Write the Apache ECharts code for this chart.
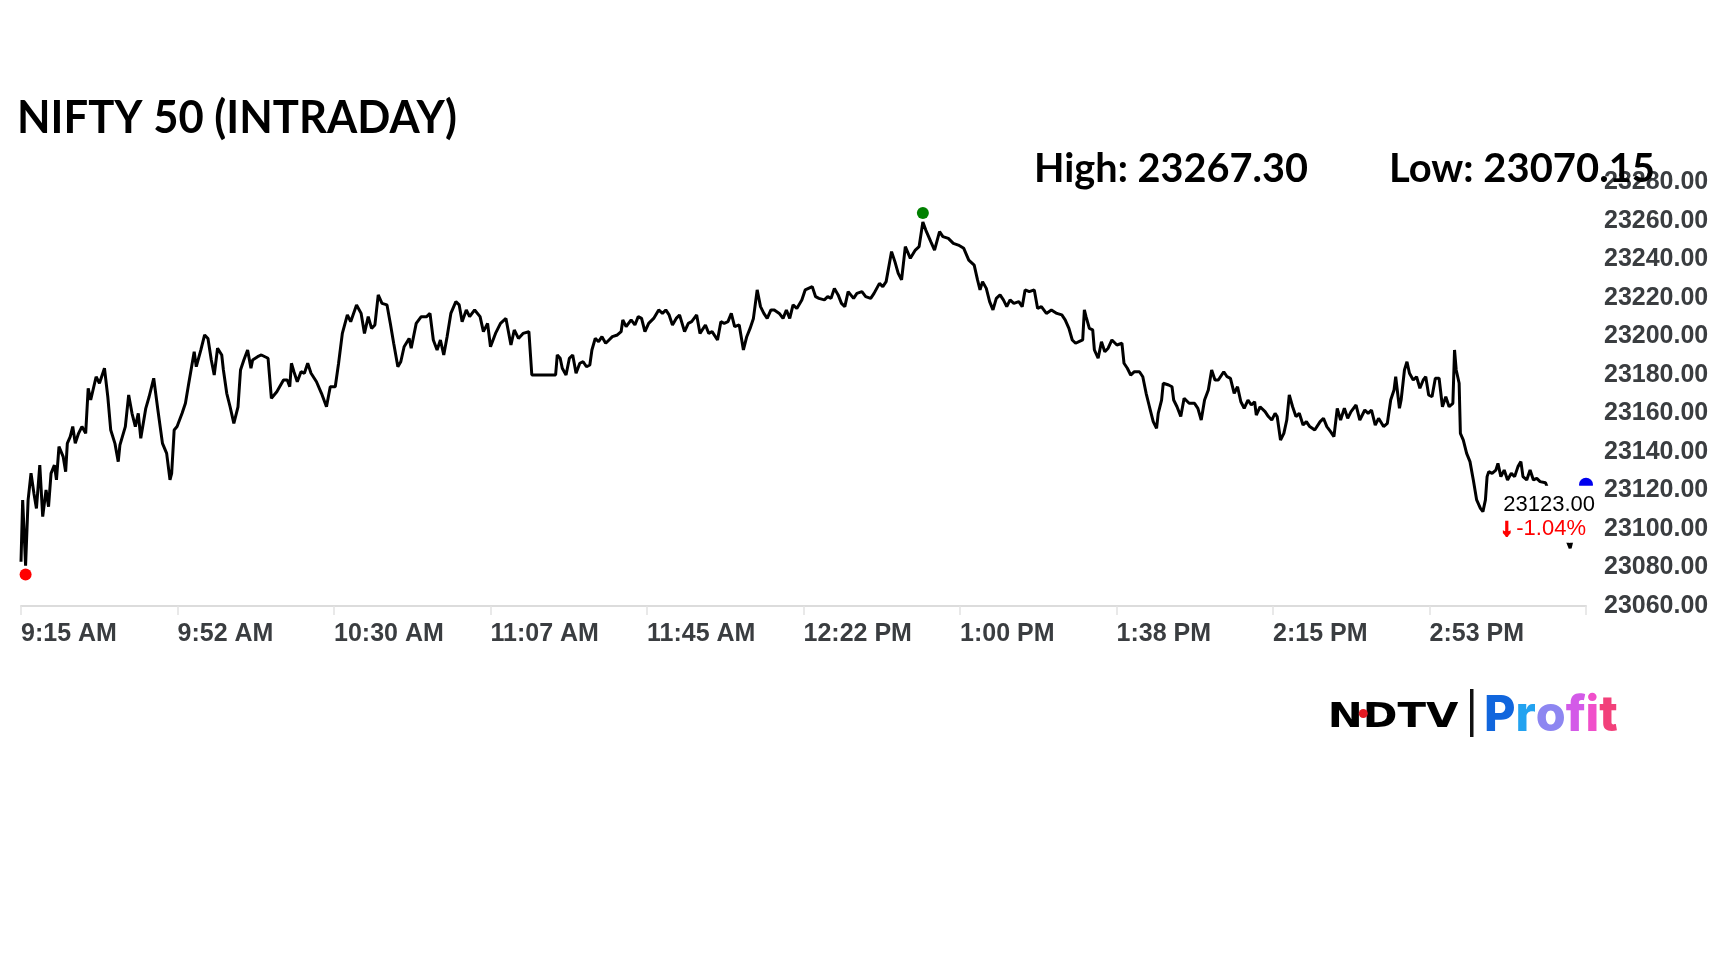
<!DOCTYPE html>
<html><head><meta charset="utf-8">
<script src="https://cdn.jsdelivr.net/npm/echarts@6/dist/echarts.min.js"></script>
<style>html,body{margin:0;padding:0;background:#fff}#c{width:1728px;height:972px}</style>
</head><body><div id="c"></div>
<script>
// ---- data (minutes after 9:15 AM open, NIFTY 50 level) ----
const minutesFromOpen = [
0,0.4,1.1,1.7,2.4,3.1,3.7,4.5,5.2,6.0,6.6,7.2,8.0,8.5,9.1,10.1,10.7,11.1,11.8,12.4,13.0,13.8,14.6,15.5,16.1,16.7,18.0,18.8,20.0,20.8,
21.5,22.5,23.3,23.7,25.0,25.8,26.6,27.4,28.1,28.7,29.9,30.7,31.8,32.8,33.9,34.9,35.7,36.1,36.7,37.4,38.6,39.4,40.2,41.5,42.0,43.1,44.0,44.8,45.6,46.3,
47.1,48.1,48.5,49.3,50.1,51.0,52.0,52.6,53.4,54.3,55.1,55.5,56.7,57.6,59.2,60.0,61.3,62.9,63.8,64.4,64.8,65.4,66.2,67.1,67.9,68.7,69.5,70.8,72.0,73.2,
74.1,75.3,76.1,77.0,78.2,79.0,80.4,81.5,82.3,83.2,84.0,84.8,85.6,86.5,87.7,88.5,89.3,90.3,91.0,91.8,93.0,93.5,94.7,95.9,97.2,98.0,98.8,99.7,100.5,101.3,
102.1,103.0,104.2,105.0,105.7,106.7,107.5,108.7,110.0,110.8,111.8,112.5,113.7,114.9,116.2,117.4,118.2,119.2,120.3,121.7,122.4,128.1,128.5,129.2,129.7,130.6,131.4,132.2,133.0,133.9,
134.7,135.5,136.3,136.8,137.6,138.4,139.2,140.1,140.9,141.7,142.9,143.8,144.2,145.0,146.2,147.1,147.9,148.7,149.5,150.4,151.6,152.8,153.7,154.5,155.3,156.1,157.0,157.8,159.0,159.9,
160.7,161.9,162.7,164.0,164.8,165.6,166.9,167.7,168.5,169.4,170.2,171.0,172.1,173.1,173.9,174.7,175.5,176.4,177.2,178.0,178.8,179.7,180.5,181.7,182.6,183.4,184.2,185.0,185.9,187.1,
187.9,188.7,189.6,190.4,191.2,192.5,193.3,194.1,194.9,195.8,196.6,197.4,198.2,199.5,200.3,201.5,202.4,203.6,204.4,205.7,206.5,207.3,208.6,209.4,210.2,211.0,211.9,213.1,214.3,215.2,
216.1,216.8,218.0,218.9,220.1,220.9,222.2,223.4,224.6,225.9,227.1,228.4,229.2,229.8,230.4,231.3,232.1,232.9,233.7,234.6,235.4,236.2,237.0,237.9,239.1,239.9,240.6,241.6,242.8,243.6,
244.5,245.7,246.9,248.2,249.4,250.2,251.1,251.9,252.7,253.5,254.4,254.8,255.2,256.0,256.8,257.2,258.1,258.9,259.7,260.5,261.4,262.6,263.8,264.3,265.1,265.9,266.8,268.0,268.8,269.6,
270.4,271.3,272.1,272.5,273.3,273.7,275.0,275.8,276.2,277.0,277.9,278.7,279.9,281.2,282.0,282.8,283.6,284.5,285.3,286.1,286.9,288.2,289.0,289.8,290.7,291.5,292.3,293.1,294.0,294.8,
295.6,296.0,296.9,298.1,298.9,299.7,300.5,301.0,301.8,302.6,303.3,303.9,304.7,305.5,306.3,307.2,308.0,308.8,310.0,311.3,312.1,312.9,313.8,314.6,315.4,316.2,317.1,317.9,318.7,319.9,
320.8,322.0,322.8,323.6,324.5,325.3,326.5,327.4,328.2,329.0,329.4,330.3,330.7,331.5,332.1,332.7,333.6,334.4,335.2,336.0,336.6,337.3,338.1,338.9,339.8,340.6,341.4,342.2,343.1,343.5,
343.9,344.6,344.9,345.6,346.4,347.2,348.0,348.8,349.7,350.3,350.9,351.3,351.7,352.5,353.4,353.9,354.6,355.4,356.2,357.1,357.9,358.7,359.4,359.9,360.8,361.6,362.4,363.2,364.0,365.3,
367.0,369.0,371.2,373.0,375.0
];
const niftyPrices = [
23083,23115,23081,23115,23129,23118.5,23110.7,23133.2,23106.4,23120.3,23111.6,23128.9,23133.2,23125.5,23142.8,23137.6,23129.8,23144.5,23148,23153.2,23144.5,23149.7,23153.2,23149.7,23173.1,23167,23179.1,23175.7,23183.5,23168.7,
23151.4,23144.5,23135,23143.6,23153.2,23169.6,23160.1,23153.2,23160.1,23147.1,23162.7,23168.7,23178.3,23161.8,23144.5,23139.3,23125.5,23128.9,23151.4,23153.2,23160.1,23165.3,23175.7,23192.1,23184.3,23193,23200.8,23199,23187.8,23180,
23193.9,23190.4,23182.6,23170.5,23163.5,23154.9,23163.5,23182.6,23187.8,23193,23183.5,23187.8,23189.5,23190.4,23188.7,23167.9,23171.3,23177.4,23177.4,23173.9,23186.1,23181.7,23176.5,23181.7,23180.9,23186.1,23180.9,23176.5,23170.5,23163.5,
23173.9,23173.9,23186.1,23201.6,23211.2,23207.7,23216.4,23212,23201.6,23210.3,23204.2,23206,23221.6,23217.2,23216.4,23206.8,23196.5,23184.3,23186.9,23194.7,23199,23193.9,23206.8,23210.3,23210.3,23212,23198.2,23193,23198.2,23190.4,
23199.9,23212,23218.1,23216.4,23207.7,23213.8,23210.3,23213.8,23210.3,23202.5,23206.8,23194.7,23201.6,23206.8,23209.4,23195.6,23203.4,23199,23201.6,23202.5,23180,23180,23190.4,23188.7,23183.5,23180,23188.7,23190.4,23180.9,23186.1,
23186.9,23184.3,23185.2,23193,23199,23197.3,23199.9,23196.5,23198.2,23199.9,23200.8,23202.5,23208.6,23205.1,23208.6,23206,23210.3,23209.4,23202.5,23206.8,23209.4,23213.8,23212,23213.8,23211.2,23206,23209.4,23211.2,23202.5,23206.8,
23207.7,23211.2,23201.6,23206,23201.6,23202.5,23198.2,23207.7,23206.8,23207.7,23212,23205.1,23206,23193,23199.9,23204.2,23209.4,23224.2,23215.5,23212,23209.4,23213.8,23213.8,23212,23209.4,23213.8,23209.4,23216.4,23214.6,23219,
23224.2,23225,23225.9,23220.7,23219.8,23219,23220.7,23219.8,23225,23221.6,23217.2,23215.5,23223.3,23219.8,23222.4,23223.3,23220.7,23219.8,23222.4,23227.6,23225.9,23228.5,23244.1,23238.9,23232.8,23229.4,23246.7,23240.6,23244.9,23246.7,
23259.5,23255.3,23249.3,23244.9,23254.5,23251.9,23251,23248.4,23247.5,23245.8,23239.7,23237.1,23229.4,23224.2,23228.5,23225,23218.1,23213.8,23219.8,23221.6,23219,23215.5,23219,23217.2,23218.1,23215.5,23224.2,23223.3,23224.2,23214.6,
23215.5,23212,23213.8,23212,23211.2,23208.6,23204.2,23198.2,23196.5,23197.3,23198.2,23213.8,23210.3,23204.2,23203.4,23193,23188.7,23197.3,23192.1,23193.9,23198.2,23195.6,23196.5,23186.1,23183.5,23180,23181.7,23181.7,23179.1,23170.5,
23163.5,23155.8,23152.3,23160.1,23167,23175.7,23174.8,23173.9,23167,23163.5,23158.4,23167.9,23165.3,23165.3,23162.7,23156.6,23167,23172.2,23182.6,23177.4,23177.4,23181.7,23179.1,23178.3,23170.5,23173.9,23166.1,23162.7,23167,23164.4,
23166.1,23159.2,23163.5,23161,23158.4,23156.6,23160.1,23158.4,23146.2,23149.7,23156.6,23169.6,23163.5,23158.4,23160.1,23154,23155.8,23153.2,23151.4,23155.8,23157.5,23153.2,23150.6,23148,23162.7,23156.6,23162.7,23157.5,23161,23164.4,
23156.6,23161.8,23160.1,23161.8,23154,23157.5,23153.2,23154.9,23167,23172.2,23179.1,23162.7,23167,23182.6,23186.9,23180.9,23177.4,23179.1,23173.1,23177.4,23179.1,23169.6,23168.7,23178.3,23178.3,23163.5,23168.7,23163.5,23165.3,23193,
23182.6,23175.7,23149.7,23146.2,23139.3,23135,23125.5,23115.1,23110.7,23109,23115.1,23127.2,23129.8,23128.9,23130.6,23134.1,23127.2,23130.6,23125.5,23128.9,23127.2,23132.4,23135,23127.2,23125.5,23130.6,23125.5,23126.3,23124.6,23124,
23114,23102,23090,23106,23123
];
const timeLabels = ['9:15 AM','9:52 AM','10:30 AM','11:07 AM','11:45 AM','12:22 PM','1:00 PM','1:38 PM','2:15 PM','2:53 PM',''];
const dayHigh = 23267.30;
const dayLow = 23070.15;
const lastPrice = 23123.00;
const changePct = -1.04;
const chartTitle = 'NIFTY 50 (INTRADAY)';

// ---- build ----
const seriesData = minutesFromOpen.map((m, i) => [m, niftyPrices[i]]);
let iMin = 0, iMax = 0;
niftyPrices.forEach((v, i) => { if (v < niftyPrices[iMin]) iMin = i; if (v > niftyPrices[iMax]) iMax = i; });
const iLast = niftyPrices.length - 1;

const mctx = document.createElement('canvas').getContext('2d');
function fitScale(text, font, width) { mctx.font = font; return width / mctx.measureText(text).width; }
function fitText(text, font, left, width, midY, fill) {
  return { type: 'text', x: left, y: midY, scaleX: fitScale(text, font, width), z: 10,
    style: { text: text, font: font, fill: fill, align: 'left', verticalAlign: 'middle' } };
}
const titleFont = 'bold 46px Lato';
const hlFont = 'bold 40px Lato';
const ndtvFont = 'bold 33px "DejaVu Sans"';
const profitFont = '800 50px Inter';

const axisFont = { fontFamily: '"Liberation Sans", Arial, sans-serif', fontWeight: 'bold', fontSize: 25, color: '#3a3d40' };

// "Profit" wordmark: one colour per letter along the brand gradient
const profitWord = 'Profit';
const profitColors = ['#1166dd', '#22a2f0', '#8d86f1', '#d35ae8', '#f04fca', '#f2407a'];
const profitRich = {};
let profitText = '';
profitWord.split('').forEach((ch, i) => {
  const k = 'l' + i;
  profitRich[k] = { fill: profitColors[i], font: profitFont };
  profitText += '{' + k + '|' + ch + '}';
});

const chart = echarts.init(document.getElementById('c'), null, { renderer: 'canvas' });
chart.setOption({
  animation: false,
  backgroundColor: '#fff',
  grid: { left: 21, right: 142, top: 182.5, bottom: 366, containLabel: false },
  xAxis: {
    type: 'value', min: 0, max: 375, interval: 37.5,
    axisLine: { show: true, lineStyle: { color: '#dcdcdc', width: 2 } },
    axisTick: { show: true, length: 9, lineStyle: { color: '#e2e2e2', width: 1.5 } },
    splitLine: { show: false },
    axisLabel: Object.assign({ margin: 16, align: 'left', showMaxLabel: true,
      formatter: v => timeLabels[Math.round(v / 37.5)] || '' }, axisFont)
  },
  yAxis: {
    type: 'value', position: 'right', min: 23060, max: 23280, interval: 20,
    axisLine: { show: false }, axisTick: { show: false }, splitLine: { show: false },
    axisLabel: Object.assign({ margin: 18, formatter: v => v.toFixed(2) }, axisFont)
  },
  series: [
    { type: 'line', data: seriesData, showSymbol: false, z: 2,
      lineStyle: { color: '#000', width: 3 }, emphasis: { disabled: true } },
    { type: 'scatter', z: 5, silent: true, itemStyle: { opacity: 1 },
      data: [
        { value: seriesData[iMin], symbolSize: 12, symbolOffset: [0, 9], itemStyle: { color: '#ff0000', opacity: 1 } },
        { value: seriesData[iMax], symbolSize: 12, symbolOffset: [0, -9], itemStyle: { color: '#008000', opacity: 1 } },
        { value: seriesData[iLast], symbolSize: 14, itemStyle: { color: '#0000ee', opacity: 1 },
          label: { show: true, position: [18, 8], align: 'right', verticalAlign: 'top', opacity: 1,
            backgroundColor: '#ffffff', padding: [7, 2, 2, 4],
            formatter: '{v|' + lastPrice.toFixed(2) + '}\n{a|↓} {p|' + changePct.toFixed(2) + '%}',
            rich: {
              v: { fontFamily: '"Liberation Sans", Arial', fontSize: 22, color: '#000', lineHeight: 24 },
              a: { fontFamily: '"Liberation Sans", Arial', fontSize: 24, fontWeight: 'bold', color: '#f00',
                   textBorderColor: '#f00', textBorderWidth: 2.2, lineHeight: 24 },
              p: { fontFamily: '"Liberation Sans", Arial', fontSize: 22, color: '#f00', lineHeight: 24, padding: [0, 9, 0, 0] }
            } } }
      ] }
  ],
  graphic: [
    fitText(chartTitle, titleFont, 17, 440, 118.5, '#000'),
    fitText('High: ' + dayHigh.toFixed(2), hlFont, 1034, 274, 169.5, '#000'),
    fitText('Low: ' + dayLow.toFixed(2), hlFont, 1389, 266, 169.5, '#000'),
    fitText('NDTV', ndtvFont, 1327.7, 130.6, 718, '#000'),
    { type: 'circle', z: 11, shape: { cx: 1363.3, cy: 713.5, r: 4.5 }, style: { fill: '#e31b23' } },
    { type: 'rect', z: 10, shape: { x: 1470, y: 689, width: 3.5, height: 48 }, style: { fill: '#111' } },
    { type: 'text', x: 1484, y: 716, z: 10, scaleX: fitScale(profitWord, profitFont, 133),
      style: { text: profitText, rich: profitRich, font: profitFont, align: 'left', verticalAlign: 'middle' } }
  ]
});
</script></body></html>
